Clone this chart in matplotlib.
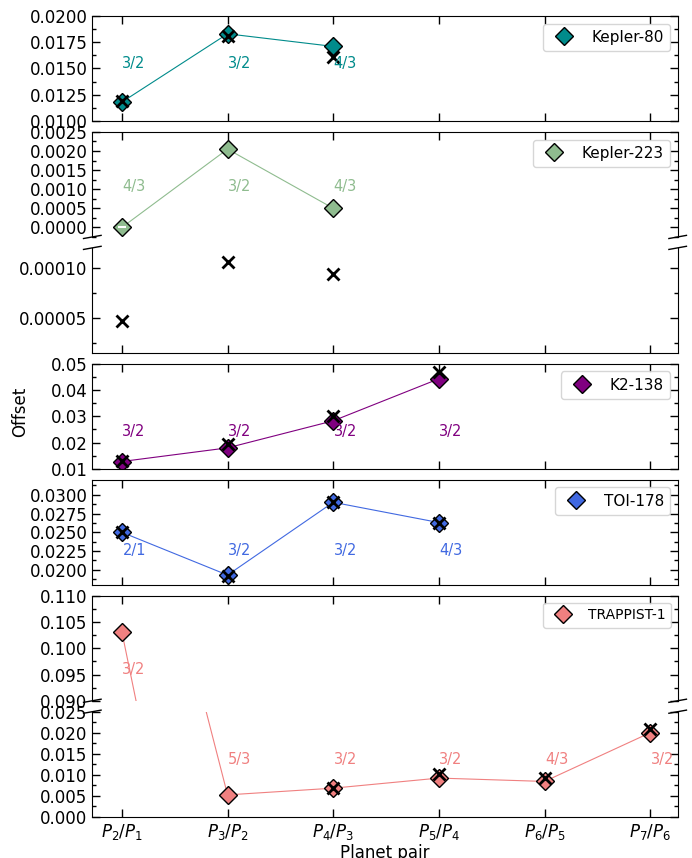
import matplotlib.pyplot as plt
import numpy as np
from matplotlib.ticker import MultipleLocator, AutoMinorLocator, FuncFormatter

pairs = [r"$P_2/P_1$", r"$P_3/P_2$", r"$P_4/P_3$", r"$P_5/P_4$", r"$P_6/P_5$", r"$P_7/P_6$"]

kepler80_offset = [0.0118, 0.0183, 0.0171]
kepler80_cross = [0.0119, 0.0181, 0.0161]
kepler80_res = ["3/2", "3/2", "4/3"]

kepler223_offset = [0.0000, 0.00205, 0.0005]
kepler223_cross = [0.000047, 0.000106, 0.000094]
kepler223_res = ["4/3", "3/2", "4/3"]

k2138_offset = [0.0128, 0.0180, 0.0283, 0.0443]
k2138_cross = [0.0130, 0.0195, 0.0300, 0.0470]
k2138_res = ["3/2", "3/2", "3/2", "3/2"]

toi178_offset = [0.0250, 0.0193, 0.0290, 0.0263]
toi178_cross = [0.0250, 0.0192, 0.0290, 0.0263]
toi178_res = ["2/1", "3/2", "3/2", "4/3"]

trappist_offset = [0.1031, 0.0052, 0.0068, 0.0092, 0.0084, 0.0200]
trappist_cross = [np.nan, np.nan, 0.0068, 0.0101, 0.0092, 0.0210]
trappist_res = ["3/2", "5/3", "3/2", "3/2", "4/3", "3/2"]

fig = plt.figure(figsize=(6.92, 8.58), dpi=100)
gs = fig.add_gridspec(7, 1, left=0.1334, right=0.9793, top=0.9814, bottom=0.0481, hspace=0.104)
axes = [fig.add_subplot(gs[i]) for i in range(7)]


def style(ax, ylim, step, fmt, top=True, bottom=True):
    ax.set_xlim(0.72, 6.26)
    ax.set_ylim(*ylim)
    ax.set_xticks(range(1, 7))
    ax.set_xticklabels(pairs)
    ax.yaxis.set_major_locator(MultipleLocator(step))
    ax.yaxis.set_minor_locator(AutoMinorLocator(2))
    ax.yaxis.set_major_formatter(FuncFormatter(lambda v, p: fmt % (round(v, 10) + 0.0)))
    ax.tick_params(axis="both", which="both", direction="in", top=top, bottom=bottom,
                   right=True, labelbottom=False, labelsize=12)
    ax.tick_params(which="major", length=6, width=1)
    ax.tick_params(which="minor", length=3, width=1)
    if not bottom:
        ax.spines["bottom"].set_visible(False)
    if not top:
        ax.spines["top"].set_visible(False)


def draw(ax, offset, cross, color, name=None, line=True, diamonds=True, crosses=True):
    x = np.arange(1, len(offset) + 1)
    if line:
        ax.plot(x, offset, color=color, lw=0.8, zorder=1)
    if diamonds:
        ax.plot(x, offset, ls="none", marker="D", ms=9, mfc=color, mec="k", mew=1,
                zorder=2, label=name)
    if crosses:
        ax.plot(x, cross, ls="none", marker="x", ms=9, mec="k", mew=2, zorder=3)


def labels(ax, idx, res, y, color):
    for i in idx:
        ax.text(i + 1 + 0.005, y, res[i], color=color, fontsize=10.5, ha="left", va="center")


def break_marks(top_ax, bot_ax, d=0.015):
    kw = dict(transform=top_ax.transAxes, color="k", clip_on=False, lw=1)
    top_ax.plot((-d, d), (-d, d), **kw)
    top_ax.plot((1 - d, 1 + d), (-d, d), **kw)
    kw["transform"] = bot_ax.transAxes
    bot_ax.plot((-d, d), (1 - d, 1 + d), **kw)
    bot_ax.plot((1 - d, 1 + d), (1 - d, 1 + d), **kw)


# Kepler-80
c = "darkcyan"
ax = axes[0]
draw(ax, kepler80_offset, kepler80_cross, c, "Kepler-80")
labels(ax, range(3), kepler80_res, 0.0155, c)
style(ax, (0.01, 0.02), 0.0025, "%.4f")
ax.legend(loc="upper right", fontsize=11)

# Kepler-223 (broken axis)
c = "darkseagreen"
ax, ax2 = axes[1], axes[2]
draw(ax, kepler223_offset, kepler223_cross, c, "Kepler-223", crosses=False)
ax.plot([1], kepler223_offset[:1], ls="none", marker="_", ms=6, mec="white", mew=1.5, zorder=3)
draw(ax2, kepler223_offset, kepler223_cross, c, line=False, diamonds=False)
labels(ax, range(3), kepler223_res, 0.00108, c)
style(ax, (-0.00025, 0.0025), 0.0005, "%.4f", bottom=False)
style(ax2, (0.000015, 0.00012), 0.00005, "%.5f", top=False)
break_marks(ax, ax2)
ax.legend(loc="upper right", fontsize=11)

# K2-138
c = "purple"
ax = axes[3]
draw(ax, k2138_offset, k2138_cross, c, "K2-138")
labels(ax, range(4), k2138_res, 0.0242, c)
style(ax, (0.01, 0.05), 0.01, "%.2f")
ax.legend(loc="upper right", fontsize=11)

# TOI-178
c = "royalblue"
ax = axes[4]
draw(ax, toi178_offset, toi178_cross, c, "TOI-178")
labels(ax, range(4), toi178_res, 0.02256, c)
style(ax, (0.018, 0.032), 0.0025, "%.4f")
ax.legend(loc="upper right", fontsize=11)

# TRAPPIST-1 (broken axis)
c = "lightcoral"
ax, ax2 = axes[5], axes[6]
draw(ax, trappist_offset, trappist_cross, c, "TRAPPIST-1")
draw(ax2, trappist_offset, trappist_cross, c)
labels(ax, [0], trappist_res, 0.0959, c)
labels(ax2, range(1, 6), trappist_res, 0.0137, c)
style(ax, (0.09, 0.11), 0.005, "%.3f", bottom=False)
style(ax2, (0.0, 0.025), 0.005, "%.3f", top=False)
ax2.tick_params(labelbottom=True)
ax2.set_xlabel("Planet pair", fontsize=12, labelpad=2)
break_marks(ax, ax2)
ax.legend(loc="upper right", fontsize=10)

fig.text(0.029, 0.52, "Offset", rotation=90, ha="center", va="center", fontsize=12)

fig.savefig("out.png", dpi=100)
